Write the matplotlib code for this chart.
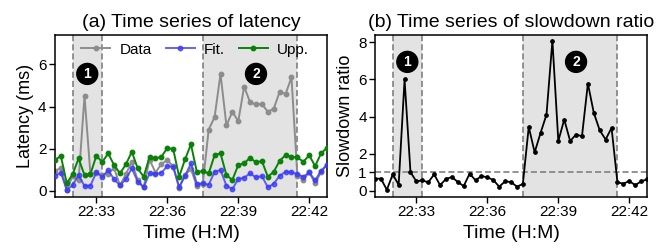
import numpy as np
import pandas as pd
import matplotlib
matplotlib.use("Agg")
import matplotlib.pyplot as plt
import matplotlib.dates as mdates

plt.rcParams['font.family'] = ['Liberation Sans', 'DejaVu Sans']

# 15 s samples, 22:31:15 .. 22:42:45
times = pd.date_range("2024-01-01 22:31:15", periods=47, freq="15s")

data = [0.95, 1.07, 0.05, 0.70, 0.49, 4.50, 0.79, 0.83, 0.76, 0.80,
        1.07, 0.25, 0.79, 1.37, 0.50, 0.17, 1.48, 0.86, 1.27, 1.46,
        1.15, 0.15, 0.75, 1.03, 0.20, 0.33, 2.90, 3.50, 5.55, 3.10,
        3.75, 3.30, 4.95, 4.20, 4.10, 4.12, 3.75, 3.90, 4.70, 4.60,
        5.38, 0.71, 0.52, 0.87, 0.35, 0.89, 1.24]
fit = [0.71, 0.85, 0.03, 0.27, 0.74, 0.22, 0.24, 0.87, 0.66, 0.98,
       0.54, 0.25, 0.55, 1.06, 0.43, 0.16, 0.82, 0.79, 0.85, 1.17,
       1.14, 0.16, 0.71, 1.30, 0.33, 0.35, 0.28, 0.90, 0.98, 0.24,
       0.08, 0.55, 0.62, 0.82, 0.63, 0.70, 0.16, 0.33, 0.71, 0.90,
       0.87, 0.79, 0.66, 0.87, 0.49, 0.95, 1.22]
upp = [1.46, 1.65, 0.35, 0.79, 1.53, 0.74, 0.79, 1.66, 1.36, 1.77,
       1.22, 0.82, 1.25, 1.85, 1.06, 0.66, 1.61, 1.53, 1.61, 2.03,
       1.98, 0.66, 1.49, 2.20, 0.89, 0.93, 0.82, 1.69, 1.77, 0.74,
       0.51, 1.22, 1.30, 1.57, 1.34, 1.41, 0.66, 0.90, 1.42, 1.69,
       1.61, 1.58, 1.38, 1.68, 1.17, 1.77, 2.04]
slowdown = [0.65, 0.65, 0.05, 0.88, 0.32, 6.00, 1.00, 0.50, 0.56, 0.45,
            0.88, 0.30, 0.63, 0.74, 0.47, 0.25, 0.92, 0.56, 0.79, 0.72,
            0.58, 0.22, 0.50, 0.47, 0.22, 0.36, 3.44, 2.07, 3.12, 4.10,
            8.10, 2.68, 3.84, 2.68, 3.03, 2.94, 5.78, 4.20, 3.26, 2.76,
            3.39, 0.45, 0.38, 0.52, 0.30, 0.50, 0.61]

# anomaly windows and their labels
regions = [("2024-01-01 22:32:00", "2024-01-01 22:33:15"),
           ("2024-01-01 22:37:30", "2024-01-01 22:41:30")]
region_labels = ["1", "2"]
label_times = ["2024-01-01 22:32:37", "2024-01-01 22:39:45"]

xticks = pd.to_datetime(["2024-01-01 22:33", "2024-01-01 22:36",
                         "2024-01-01 22:39", "2024-01-01 22:42"])

fig = plt.figure(figsize=(6.7, 2.5), dpi=100)
ax1 = fig.add_axes([0.082, 0.212, 0.406, 0.648])
ax2 = fig.add_axes([0.5597, 0.212, 0.406, 0.648])


def decorate(ax, label_y):
    for (a, b), lab, lt in zip(regions, region_labels, label_times):
        a, b = pd.Timestamp(a), pd.Timestamp(b)
        ax.axvspan(a, b, color="#e3e3e3", lw=0, zorder=0)
        for x in (a, b):
            ax.axvline(x, color="#777777", ls=(0, (4, 2)), lw=1.1, zorder=1)
        ax.text(pd.Timestamp(lt), label_y, lab, color="white", fontsize=10,
                fontweight="bold", ha="center", va="center", zorder=5,
                bbox=dict(boxstyle="circle,pad=0.25", fc="black", ec="black"))
    ax.set_xlim(times[0], times[-1])
    ax.set_xticks(xticks)
    ax.xaxis.set_major_formatter(mdates.DateFormatter("%H:%M"))
    ax.set_xlabel("Time (H:M)", fontsize=14)
    ax.tick_params(labelsize=11, length=4, width=1, color="black", pad=2)
    for s in ax.spines.values():
        s.set_linewidth(1.1)
        s.set_color("black")


ms = 3.2
ax1.plot(times, data, color="#8c8c8c", marker="o", ms=ms, lw=1.4, label="Data", zorder=2)
ax1.plot(times, fit, color="#3c3cf5", marker="o", ms=ms, lw=1.4, alpha=0.8, label="Fit.", zorder=3)
ax1.plot(times, upp, color="#0a820a", marker="o", ms=ms, lw=1.4, label="Upp.", zorder=4)
decorate(ax1, 5.55)
ax1.set_ylim(-0.3, 7.4)
ax1.set_yticks([0, 2, 4, 6])
ax1.set_ylabel("Latency (ms)", fontsize=13, labelpad=3)
ax1.set_title("(a) Time series of latency", fontsize=14, pad=6)
ax1.legend(loc="upper center", ncol=3, frameon=False, fontsize=11,
           handlelength=1.9, columnspacing=0.9, handletextpad=0.6,
           borderaxespad=0.1, bbox_to_anchor=(0.515, 1.0))

ax2.plot(times, slowdown, color="black", marker="o", ms=2.4, lw=1.3, zorder=3)
ax2.axhline(1, color="#777777", ls=(0, (4, 2)), lw=1.1, zorder=2)
decorate(ax2, 6.95)
ax2.set_ylim(-0.34, 8.4)
ax2.set_yticks([0, 1, 2, 4, 6, 8])
ax2.set_ylabel("Slowdown ratio", fontsize=13, labelpad=3)
ax2.set_title("(b) Time series of slowdown ratio", fontsize=14, pad=6)

fig.savefig("out.png", dpi=100)
